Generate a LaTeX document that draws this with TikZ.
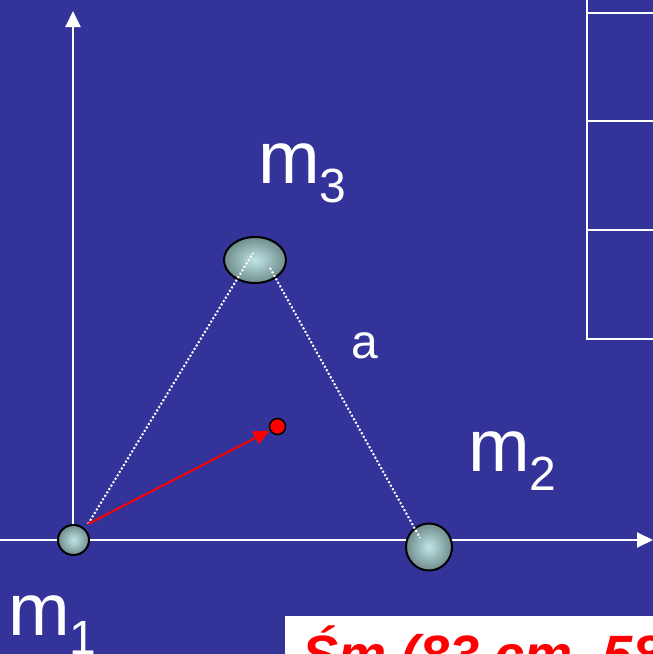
\documentclass[tikz,border=0pt]{standalone}
\usepackage{fontspec}
\setmainfont{Liberation Sans}
\usetikzlibrary{arrows.meta,shapes.geometric}
\definecolor{bg}{RGB}{51,51,153}
\definecolor{ballin}{RGB}{192,230,230}
\definecolor{ballout}{RGB}{112,140,140}
\newcommand\bigsz{\fontsize{74pt}{74pt}\selectfont}
\newcommand\subsz{\fontsize{48pt}{48pt}\selectfont}
\begin{document}
\begin{tikzpicture}[x=1pt,y=-1pt,
  axis/.style={white,line width=2pt,-{Triangle[length=16pt,width=15pt]}},
  ball/.style={draw=black,line width=2pt,inner color=ballin,outer color=ballout,inner sep=0pt},
  dots/.style={white,line width=2pt,dash pattern=on 2pt off 2pt},
  lbl/.style={text=white,inner sep=0pt,anchor=base west,font=\bigsz},
  tline/.style={white,line width=2pt}]
\useasboundingbox (0,0) rectangle (653,654);
\clip (0,0) rectangle (653,654);
\fill[bg] (0,0) rectangle (653,654);
% table at top right
\draw[tline] (587,-2) -- (587,339) -- (660,339);
\draw[tline] (587,13) -- (660,13);
\draw[tline] (587,121) -- (660,121);
\draw[tline] (587,230) -- (660,230);
% axes
\coordinate (o) at (73,540);
\coordinate (xs) at (0,540);
\coordinate (xe) at (653,540);
\coordinate (ye) at (73,11);
\draw[axis] (xs) -- (xe);
\draw[axis] (o) -- (ye);
% masses
\node[ball,ellipse,minimum width=31pt,minimum height=30pt] (m1) at (73.5,540) {};
\node[ball,ellipse,minimum width=46pt,minimum height=47pt] (m2) at (429,547) {};
\node[ball,ellipse,minimum width=62pt,minimum height=46pt] (m3) at (255,260) {};
% triangle sides
\coordinate (p1) at (88,524);
\coordinate (p3a) at (253,253);
\coordinate (p3b) at (270,268);
\coordinate (p2) at (420,538);
\draw[dots] (p1) -- (p3a);
\draw[dots] (p3b) -- (p2);
% centre of mass
\node[circle,fill=red,draw=black,line width=1.5pt,minimum size=16pt,inner sep=0pt] (cm) at (277.5,426.5) {};
\draw[red,line width=2pt,-{Triangle[length=16pt,width=14pt]}] (p1) -- (cm);
% labels
\node[lbl] (t3) at (258,183) {m\raisebox{-19pt}{\subsz 3}};
\node[lbl] (t2) at (468,471) {m\raisebox{-19pt}{\subsz 2}};
\node[lbl] (t1) at (8,635) {m\raisebox{-19pt}{\subsz 1}};
\node[lbl,font=\subsz] (ta) at (351,358) {a};
% bottom box
\fill[white] (285,616) rectangle (660,660);
\node[anchor=base west,text=red,inner sep=0pt,font=\fontsize{54pt}{54pt}\selectfont\bfseries\itshape] (cmt) at (302,673) {Śm (83 cm, 58};
\end{tikzpicture}
\end{document}
